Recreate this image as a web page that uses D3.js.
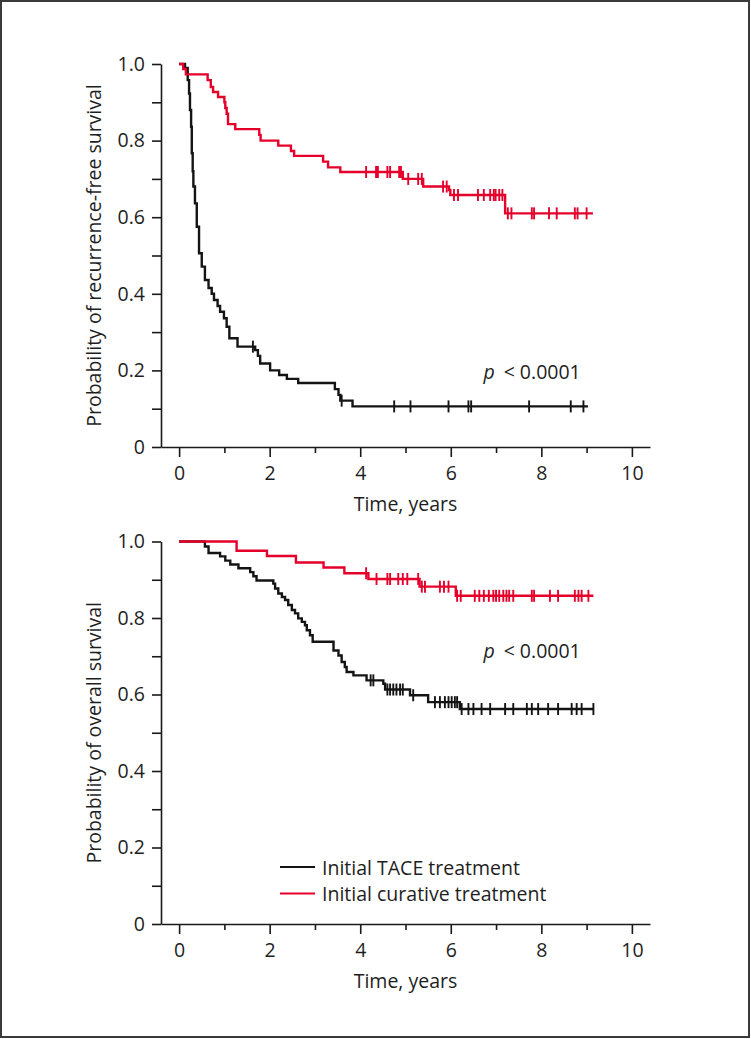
<!DOCTYPE html>
<html><head><meta charset="utf-8">
<script src="https://cdn.jsdelivr.net/npm/d3@7"></script>
<style>
body{margin:0;background:#fff}
svg{display:block}
text{font-family:"Open Sans","Noto Sans",sans-serif;fill:#1e1e1e}
</style>
</head><body>
<svg id="c" width="751" height="1039"></svg>
<script>
// ---------- data ----------
const xMajorTicks = [0, 2, 4, 6, 8, 10];
const xMinorTicks = [1, 3, 5, 7, 9];
const yTicks = [0, 0.1, 0.2, 0.3, 0.4, 0.5, 0.6, 0.7, 0.8, 0.9, 1.0];
const yTickLabels = {"0": "0", "0.2": "0.2", "0.4": "0.4", "0.6": "0.6", "0.8": "0.8", "1": "1.0"};
const xTitle = "Time, years";
const yTitles = ["Probability of recurrence-free survival", "Probability of overall survival"];
const pText = ["p", "< 0.0001"];
const seriesNames = ["Initial TACE treatment", "Initial curative treatment"];

// Panel 1: recurrence-free survival
const rfsTaceTime = [0, 0.13, 0.19, 0.22, 0.24, 0.265, 0.28, 0.30, 0.315, 0.35, 0.39, 0.44, 0.50, 0.57, 0.65, 0.72, 0.77, 0.85, 0.905, 0.99, 1.05, 1.11, 1.29, 1.68, 1.74, 1.79, 2.01, 2.21, 2.38, 2.63, 3.44, 3.52, 3.56, 3.83];
const rfsTaceSurv = [1, 0.99, 0.958, 0.923, 0.88, 0.836, 0.767, 0.72, 0.68, 0.636, 0.575, 0.506, 0.471, 0.436, 0.415, 0.40, 0.384, 0.368, 0.353, 0.336, 0.314, 0.284, 0.262, 0.253, 0.238, 0.218, 0.20, 0.188, 0.178, 0.167, 0.151, 0.136, 0.121, 0.106];
const rfsTaceCensor = [1.63, 3.59, 4.75, 5.11, 5.95, 6.39, 6.45, 7.73, 8.65, 8.93];
const rfsTaceEnd = 9.03;

const rfsCurTime = [0, 0.09, 0.15, 0.63, 0.70, 0.75, 0.86, 1.0, 1.02, 1.05, 1.08, 1.24, 1.77, 1.80, 2.19, 2.47, 2.54, 3.18, 3.29, 3.56, 4.94, 5.39, 5.96, 5.99, 7.2];
const rfsCurSurv = [1, 0.987, 0.973, 0.958, 0.94, 0.927, 0.914, 0.90, 0.885, 0.87, 0.843, 0.83, 0.815, 0.80, 0.787, 0.773, 0.76, 0.745, 0.73, 0.718, 0.70, 0.68, 0.671, 0.658, 0.61];
const rfsCurCensor = [4.13, 4.35, 4.39, 4.6, 4.66, 4.86, 4.9, 5.06, 5.28, 5.36, 5.83, 5.91, 6.07, 6.16, 6.6, 6.73, 6.87, 6.95, 6.99, 7.07, 7.14, 7.26, 7.34, 7.79, 7.84, 8.17, 8.34, 8.74, 8.8, 9.0];
const rfsCurEnd = 9.14;

// Panel 2: overall survival
const osTaceTime = [0, 0.57, 0.65, 0.905, 1.02, 1.13, 1.31, 1.57, 1.64, 1.71, 2.08, 2.12, 2.19, 2.27, 2.34, 2.41, 2.49, 2.56, 2.63, 2.71, 2.78, 2.82, 2.89, 2.95, 3.41, 3.52, 3.59, 3.66, 3.70, 3.85, 4.14, 4.51, 4.55, 5.1, 5.5, 6.2];
const osTaceSurv = [1, 0.987, 0.97, 0.961, 0.95, 0.94, 0.93, 0.92, 0.909, 0.898, 0.89, 0.877, 0.864, 0.855, 0.847, 0.834, 0.821, 0.812, 0.799, 0.79, 0.781, 0.768, 0.755, 0.738, 0.715, 0.702, 0.685, 0.672, 0.659, 0.65, 0.637, 0.628, 0.613, 0.598, 0.58, 0.562];
const osTaceCensor = [4.23, 4.29, 4.6, 4.66, 4.73, 4.8, 4.88, 4.94, 5.17, 5.65, 5.76, 5.87, 5.95, 6.02, 6.09, 6.14, 6.24, 6.39, 6.5, 6.68, 6.87, 7.2, 7.38, 7.68, 7.79, 7.93, 8.15, 8.37, 8.67, 8.78, 8.89, 9.15];
const osTaceEnd = 9.15;

const osCurTime = [0, 1.27, 1.94, 2.58, 3.19, 3.65, 4.18, 5.31, 6.11];
const osCurSurv = [1, 0.976, 0.962, 0.945, 0.932, 0.917, 0.902, 0.882, 0.858];
const osCurCensor = [4.13, 4.36, 4.6, 4.66, 4.84, 4.94, 5.04, 5.28, 5.36, 5.43, 5.76, 5.85, 5.95, 6.14, 6.22, 6.53, 6.63, 6.73, 6.84, 6.94, 7.0, 7.07, 7.16, 7.23, 7.29, 7.38, 7.79, 7.84, 8.19, 8.37, 8.74, 8.82, 8.89, 9.04];
const osCurEnd = 9.15;

// ---------- drawing ----------
const COLORS = ["#141414", "#e5002b"];
const FS = 19.5;
const svg = d3.select("#c");

svg.append("rect").attr("x", 1).attr("y", 1).attr("width", 748).attr("height", 1036)
  .attr("fill", "none").attr("stroke", "#3a3a3a").attr("stroke-width", 2);

const x = d3.scaleLinear().domain([-0.4, 10.4]).range([161, 650]);

function survAt(times, surv, t) {
  const i = d3.bisectRight(times, t) - 1;
  return surv[Math.max(0, i)];
}

function drawPanel(top, bottom, yTitle, series, pY, withLegend) {
  const y = d3.scaleLinear().domain([0, 1]).range([bottom, top]);
  const g = svg.append("g");

  // x axis
  const ax = g.append("g").attr("transform", `translate(0,${bottom})`)
    .call(d3.axisBottom(x).tickValues(xMajorTicks).tickSize(10).tickSizeOuter(0).tickFormat(d3.format("d")));
  ax.selectAll("text").attr("y", 33).attr("dy", null).style("font-size", FS + "px").attr("fill", "#1e1e1e");
  const axm = g.append("g").attr("transform", `translate(0,${bottom})`)
    .call(d3.axisBottom(x).tickValues(xMinorTicks).tickSize(6).tickSizeOuter(0).tickFormat(""));
  axm.select(".domain").remove();
  g.selectAll(".domain, .tick line").attr("stroke", "#1a1a1a").attr("stroke-width", 1.6);

  g.append("text").attr("x", x(5)).attr("y", bottom + 64).attr("text-anchor", "middle")
    .style("font-size", FS + "px").text(xTitle);

  // y axis
  const ay = g.append("g").attr("transform", `translate(161,0)`)
    .call(d3.axisLeft(y).tickValues(yTicks).tickSize(9).tickPadding(7).tickSizeOuter(0)
      .tickFormat(d => yTickLabels[String(+d.toFixed(1))] || ""));
  ay.selectAll("text").style("font-size", FS + "px").attr("fill", "#1e1e1e");
  ay.selectAll(".domain, .tick line").attr("stroke", "#1a1a1a").attr("stroke-width", 1.6);

  g.append("text").attr("transform", `translate(101,${(top + bottom) / 2}) rotate(-90)`)
    .attr("text-anchor", "middle").style("font-size", FS + "px").text(yTitle);

  // curves
  const line = d3.line().x(d => x(d[0])).y(d => y(d[1])).curve(d3.curveStepAfter);
  series.forEach((s, k) => {
    const pts = s.time.map((t, i) => [t, s.surv[i]]);
    pts.push([s.end, s.surv[s.surv.length - 1]]);
    g.append("path").attr("d", line(pts)).attr("fill", "none")
      .attr("stroke", COLORS[k]).attr("stroke-width", 2.4);
    g.append("g").selectAll("line").data(s.censor).join("line")
      .attr("x1", d => x(d)).attr("x2", d => x(d))
      .attr("y1", d => y(survAt(s.time, s.surv, d)) - 6)
      .attr("y2", d => y(survAt(s.time, s.surv, d)) + 6)
      .attr("stroke", COLORS[k]).attr("stroke-width", 1.9);
  });

  // p value
  const pt = g.append("text").attr("x", x(6.72)).attr("y", y(pY)).style("font-size", FS + "px");
  pt.append("tspan").style("font-style", "italic").text(pText[0]);
  pt.append("tspan").attr("dx", 9).text(pText[1]);

  if (withLegend) {
    const lg = g.append("g");
    seriesNames.forEach((n, k) => {
      const ly = 867 + k * 26.5;
      lg.append("line").attr("x1", 280).attr("x2", 315).attr("y1", ly).attr("y2", ly)
        .attr("stroke", COLORS[k]).attr("stroke-width", 2);
      lg.append("text").attr("x", 322).attr("y", ly + 7.5).style("font-size", FS + "px").text(n);
    });
  }
}

drawPanel(64, 447, yTitles[0], [
  {time: rfsTaceTime, surv: rfsTaceSurv, censor: rfsTaceCensor, end: rfsTaceEnd},
  {time: rfsCurTime, surv: rfsCurSurv, censor: rfsCurCensor, end: rfsCurEnd}
], 0.178, false);

drawPanel(541.5, 924, yTitles[1], [
  {time: osTaceTime, surv: osTaceSurv, censor: osTaceCensor, end: osTaceEnd},
  {time: osCurTime, surv: osCurSurv, censor: osCurCensor, end: osCurEnd}
], 0.696, true);
</script>
</body></html>
